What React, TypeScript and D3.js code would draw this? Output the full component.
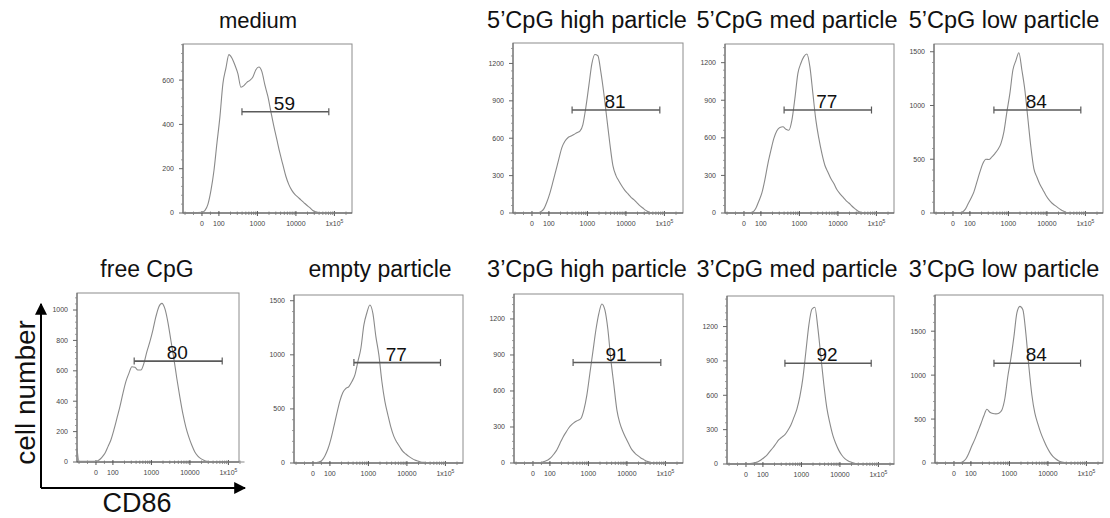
import React from 'react';
import * as d3 from 'd3';

// CD86 fluorescence bin centres (shared by all histograms)
const cd86Bins = [-112, -100, 0, 18, 35, 53, 71, 88, 106, 127, 152, 182, 217, 260, 311, 373, 446, 533, 638, 763, 913, 1092, 1307, 1563, 1870, 2237, 2677, 3201, 3830, 4582, 5482, 6557, 7845, 9384, 11227, 13430, 16068, 19221, 22995, 27507, 32910, 39367, 47097, 56340, 67402, 80631, 122000, 262144];

const panelTitles = ['medium', '5\u2019CpG high particle', '5\u2019CpG med particle', '5\u2019CpG low particle', 'free CpG', 'empty particle', '3\u2019CpG high particle', '3\u2019CpG med particle', '3\u2019CpG low particle'];

const countsMedium = [0, 0, 3, 12, 39, 102, 193, 313, 433, 584, 654, 715, 700, 668, 629, 568, 575, 590, 599, 614, 647, 659, 638, 578, 526, 458, 391, 331, 271, 218, 166, 128, 102, 84, 72, 59, 47, 35, 24, 11, 5, 2, 0, 0, 0, 0, 0, 0];
const counts5High = [0, 0, 0, 0, 3, 11, 35, 88, 160, 249, 342, 436, 524, 575, 604, 617, 630, 644, 657, 710, 850, 1024, 1198, 1272, 1262, 1130, 957, 756, 556, 382, 302, 257, 217, 182, 155, 128, 107, 83, 59, 40, 21, 8, 0, 0, 0, 0, 0, 0];
const counts5Med = [0, 0, 0, 0, 3, 8, 40, 96, 160, 267, 395, 501, 595, 656, 683, 688, 669, 661, 741, 915, 1115, 1195, 1248, 1269, 1168, 955, 741, 595, 475, 381, 328, 275, 235, 187, 155, 128, 101, 80, 56, 35, 16, 5, 0, 0, 0, 0, 0, 0];
const counts5Low = [0, 0, 0, 0, 0, 6, 31, 81, 134, 196, 289, 382, 460, 500, 497, 522, 553, 590, 646, 755, 941, 1112, 1330, 1417, 1491, 1330, 1143, 879, 615, 413, 335, 267, 217, 165, 124, 93, 71, 50, 31, 16, 3, 0, 0, 0, 0, 0, 0, 0];
const countsFree = [90, 4, 4, 13, 31, 57, 101, 145, 211, 287, 364, 452, 529, 583, 627, 623, 605, 605, 649, 726, 792, 868, 956, 1022, 1044, 1009, 921, 801, 680, 548, 427, 318, 230, 164, 110, 66, 39, 22, 11, 4, 2, 0, 0, 0, 0, 0, 0, 0];
const countsEmpty = [0, 0, 0, 3, 9, 25, 68, 129, 221, 338, 461, 575, 652, 689, 707, 753, 815, 938, 1061, 1276, 1389, 1460, 1383, 1168, 999, 753, 569, 446, 332, 246, 191, 148, 107, 83, 61, 43, 28, 18, 9, 6, 3, 0, 0, 0, 0, 0, 0, 0];
const counts3High = [0, 0, 0, 0, 3, 6, 14, 25, 44, 75, 111, 163, 213, 255, 294, 321, 341, 355, 371, 443, 568, 748, 928, 1108, 1247, 1325, 1275, 1114, 859, 651, 443, 332, 263, 208, 158, 111, 83, 61, 42, 28, 14, 6, 0, 0, 0, 0, 0, 0];
const counts3Med = [0, 0, 0, 3, 6, 12, 20, 35, 55, 78, 110, 142, 177, 212, 235, 256, 294, 340, 407, 480, 590, 750, 982, 1215, 1351, 1369, 1186, 939, 692, 488, 357, 250, 177, 119, 76, 47, 29, 17, 9, 3, 0, 0, 0, 0, 0, 0, 0, 0];
const counts3Low = [0, 0, 0, 0, 4, 15, 49, 113, 196, 272, 359, 446, 537, 612, 578, 563, 559, 567, 604, 737, 990, 1190, 1435, 1708, 1783, 1745, 1473, 1096, 774, 567, 446, 340, 257, 181, 121, 76, 45, 23, 11, 4, 0, 0, 0, 0, 0, 0, 0, 0];

const panelCounts = [countsMedium, counts5High, counts5Med, counts5Low, countsFree, countsEmpty, counts3High, counts3Med, counts3Low];

const yMax = [763, 1364, 1349, 1572, 1112, 1553, 1408, 1467, 1912];
const yTicks = [
  [0, 200, 400, 600],
  [0, 300, 600, 900, 1200],
  [0, 300, 600, 900, 1200],
  [0, 500, 1000, 1500],
  [0, 200, 400, 600, 800, 1000],
  [0, 500, 1000, 1500],
  [0, 300, 600, 900, 1200],
  [0, 300, 600, 900, 1200],
  [0, 500, 1000, 1500],
];

const gatePercent = [59, 81, 77, 84, 80, 77, 91, 92, 84];
const gateLow = [397, 400, 400, 420, 357, 420, 400, 373, 397];
const gateHigh = [71550, 76000, 74500, 76000, 69000, 74500, 76000, 65000, 70500];
const gateLevel = [457, 826, 822, 958, 664, 928, 837, 880, 1136];

const xTickValues = [0, 100, 1000, 10000, 100000];
const xTickLabels = ['0', '100', '1000', '10000', '1x10'];
const xMinorTicks = [-100, -50, 50, 200, 300, 400, 500, 600, 700, 800, 900, 2000, 3000, 4000, 5000, 6000, 7000, 8000, 9000, 20000, 30000, 40000, 50000, 60000, 70000, 80000, 90000, 200000];

// layout (pixels)
const boxes = [
  { x: 183, y: 44, w: 169, h: 169, tx: 258 },
  { x: 513, y: 43, w: 170, h: 170, tx: 587 },
  { x: 725, y: 44, w: 169, h: 169, tx: 797 },
  { x: 934, y: 44, w: 169, h: 169, tx: 1004 },
  { x: 77, y: 293, w: 162, h: 169, tx: 147 },
  { x: 294, y: 295, w: 169, h: 168, tx: 380 },
  { x: 514, y: 294, w: 169, h: 169, tx: 587 },
  { x: 727, y: 296, w: 167, h: 168, tx: 797 },
  { x: 935, y: 295, w: 168, h: 168, tx: 1004 },
];
const titleBaseline = [28, 28, 28, 28, 277, 277, 277, 277, 277];
const titleSize = [22, 23.5, 23.5, 23.5, 23, 23, 23.5, 23.5, 23.5];

const FONT = '"Liberation Sans", Arial, Helvetica, sans-serif';
const PX_PER_UNIT = 38.5;
// biexponential-like display transform: linear below 100, log above
const tf = (v: number) => (v < 100 ? (0.44 * v) / 100 : 0.44 + Math.log10(v / 100));

function Panel({ i }: { i: number }) {
  const b = boxes[i];
  const t0 = tf(cd86Bins[0]);
  const x = d3.scaleLinear().domain([t0, t0 + b.w / PX_PER_UNIT]).range([b.x, b.x + b.w]);
  const y = d3.scaleLinear().domain([0, yMax[i]]).range([b.y + b.h, b.y]);
  const data: [number, number][] = cd86Bins.map((v, k) => [v, panelCounts[i][k] ?? 0]);
  const line = d3
    .line<[number, number]>()
    .x((d) => x(tf(d[0])))
    .y((d) => y(d[1]))
    .curve(d3.curveMonotoneX);
  const yt = yTicks[i];
  const step = yt[1] - yt[0];
  const yMinor: number[] = [];
  for (let v = 0; v <= yMax[i]; v += step / 5) if (v % step !== 0) yMinor.push(v);
  const bottom = b.y + b.h;
  const gx1 = x(tf(gateLow[i]));
  const gx2 = x(tf(gateHigh[i]));
  const gy = y(gateLevel[i]);
  return (
    <g>
      <text x={b.tx} y={titleBaseline[i]} textAnchor="middle" fontSize={titleSize[i]} fill="#111" fontFamily={FONT}>
        {panelTitles[i]}
      </text>
      <rect x={b.x} y={b.y} width={b.w} height={b.h} fill="none" stroke="#8c8c8c" strokeWidth={1} />
      <line x1={b.x} x2={b.x} y1={b.y} y2={bottom} stroke="#666" strokeWidth={1} />
      <line x1={b.x} x2={b.x + b.w} y1={bottom} y2={bottom} stroke="#555" strokeWidth={1.2} />
      {yMinor.map((v) => (
        <line key={'ym' + v} x1={b.x - 2} x2={b.x} y1={y(v)} y2={y(v)} stroke="#888" strokeWidth={0.8} />
      ))}
      {yt.map((v) => (
        <g key={'y' + v}>
          <line x1={b.x - 4} x2={b.x} y1={y(v)} y2={y(v)} stroke="#666" strokeWidth={1} />
          <text x={b.x - 9} y={y(v)} dy="0.35em" textAnchor="end" fontSize={7} fill="#444" fontFamily={FONT}>
            {v}
          </text>
        </g>
      ))}
      {xMinorTicks.map((v) => (
        <line key={'xm' + v} x1={x(tf(v))} x2={x(tf(v))} y1={bottom - 1.5} y2={bottom + 2} stroke="#777" strokeWidth={0.8} />
      ))}
      {xTickValues.map((v, k) => (
        <g key={'x' + v}>
          <line x1={x(tf(v))} x2={x(tf(v))} y1={bottom - 2} y2={bottom + 3} stroke="#555" strokeWidth={1} />
          <text x={x(tf(v))} y={bottom + 13} textAnchor="middle" fontSize={7} fill="#444" fontFamily={FONT}>
            {xTickLabels[k]}
            {v === 100000 ? (
              <tspan dy={-3} fontSize={5}>
                5
              </tspan>
            ) : null}
          </text>
        </g>
      ))}
      <path d={line(data) ?? ''} fill="none" stroke="#8a8a8a" strokeWidth={1.1} />
      <line x1={gx1} x2={gx2} y1={gy} y2={gy} stroke="#5a5a5a" strokeWidth={1.6} />
      <line x1={gx1} x2={gx1} y1={gy - 3.5} y2={gy + 3.5} stroke="#5a5a5a" strokeWidth={1.2} />
      <line x1={gx2} x2={gx2} y1={gy - 3.5} y2={gy + 3.5} stroke="#5a5a5a" strokeWidth={1.2} />
      <text x={(gx1 + gx2) / 2 - 1} y={gy - 2} textAnchor="middle" fontSize={19} fill="#111" fontFamily={FONT}>
        {gatePercent[i]}
      </text>
    </g>
  );
}

export default function App() {
  return (
    <svg
      width={1110}
      height={518}
      viewBox="0 0 1110 518"
      style={{ position: 'absolute', left: 0, top: 0, background: '#fff' }}
    >
      <defs>
        <marker id="arrowHead" viewBox="0 0 10 10" refX="9" refY="5" markerWidth="6" markerHeight="6" orient="auto-start-reverse" markerUnits="strokeWidth">
          <path d="M0,0 L10,5 L0,10 z" fill="#000" />
        </marker>
      </defs>
      <rect x={0} y={0} width={1110} height={518} fill="#fff" />
      {boxes.map((_, i) => (
        <Panel key={i} i={i} />
      ))}
      <line x1={41} y1={488} x2={41} y2={304} stroke="#000" strokeWidth={2} markerEnd="url(#arrowHead)" />
      <line x1={41} y1={488} x2={245} y2={488} stroke="#000" strokeWidth={2} markerEnd="url(#arrowHead)" />
      <text
        transform="translate(35,392.5) rotate(-90)"
        textAnchor="middle"
        fontSize={28}
        fill="#111"
        fontFamily={FONT}
      >
        cell number
      </text>
      <text x={137} y={512} textAnchor="middle" fontSize={27} fill="#111" fontFamily={FONT}>
        CD86
      </text>
    </svg>
  );
}
